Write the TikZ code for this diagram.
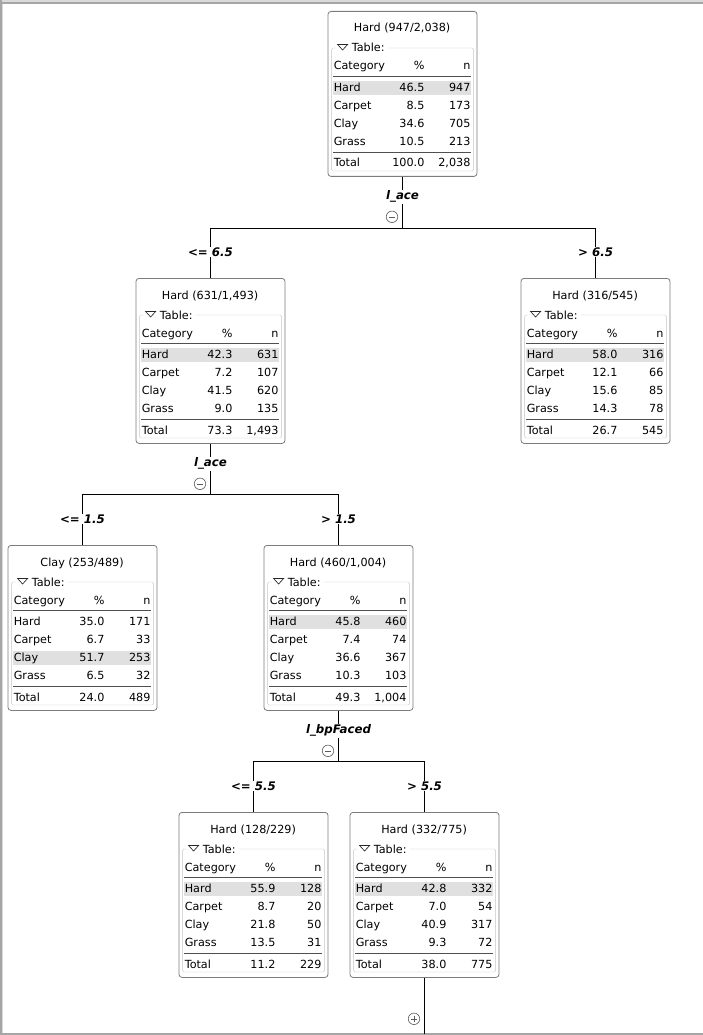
\documentclass[tikz,border=0pt]{standalone}
\usepackage{fontspec}
\setmainfont{DejaVu Sans}
\usetikzlibrary{calc}

\definecolor{boxgray}{HTML}{7C7C7C}
\definecolor{framegray}{HTML}{C6C6C6}
\definecolor{hilitegray}{HTML}{E0E0E0}
\definecolor{rulegray}{HTML}{505050}
\definecolor{icongray}{HTML}{5A5A5A}

\tikzset{
	treebox/.style={draw=boxgray,line width=0.8pt,rounded corners=3pt,fill=white,
		minimum width=149pt,minimum height=165pt,inner sep=0pt},
	celltext/.style={inner sep=0pt,font=\fontsize{11.2}{13}\selectfont},
	splitlabel/.style={inner sep=1pt,fill=white,font=\fontsize{11.8}{14}\selectfont\bfseries\itshape},
	togglecirc/.style={draw=icongray,line width=0.6pt,circle,minimum size=11.5pt,inner sep=0pt},
	link/.style={black,line width=0.8pt},
}

% #1 name, #2 x, #3 top, #4 title, #5 shaded row, #6 rows, #7 total %, #8 total n
\newcommand{\catnode}[8]{%
	\node[treebox,anchor=north] (#1) at (#2,#3) {};
	\begin{scope}[shift={(#1.north west)}]
		\fill[hilitegray] (5.5,{76.3+18.1*(#5-1)-6.5}) rectangle (143.5,{76.3+18.1*(#5-1)+7.5});
		\node[celltext,anchor=base] (#1-title) at (74.5,21) {#4};
		\draw[framegray,rounded corners=1.5pt] (8,37) -- (4,37) -- (4,160) -- (146,160) -- (146,37) -- (60,37);
		\draw[black!85,line width=0.65pt] (10,33.5) -- (20,33.5) -- (15,39) -- cycle;
		\node[celltext,anchor=base west] (#1-grp) at (24,41) {Table:};
		\node[celltext,anchor=base west] (#1-hc) at (6,59) {Category};
		\node[celltext,anchor=base east] (#1-hp) at (97,59) {\%};
		\node[celltext,anchor=base east] (#1-hn) at (143,59) {n};
		\draw[rulegray] (5.5,65) -- (143.5,65);
		\foreach \cat/\pct/\cnt [count=\k] in {#6} {
			\node[celltext,anchor=base west] (#1-c\k) at (6,{80.3+18.1*(\k-1)}) {\cat};
			\node[celltext,anchor=base east] (#1-p\k) at (97,{80.3+18.1*(\k-1)}) {\pct};
			\node[celltext,anchor=base east] (#1-n\k) at (143,{80.3+18.1*(\k-1)}) {\cnt};
		}
		\draw[rulegray] (5.5,141) -- (143.5,141);
		\node[celltext,anchor=base west] (#1-tc) at (6,156) {Total};
		\node[celltext,anchor=base east] (#1-tp) at (97,156) {#7};
		\node[celltext,anchor=base east] (#1-tn) at (143,156) {#8};
	\end{scope}}

\begin{document}
\begin{tikzpicture}[x=1pt,y=-1pt]
	\useasboundingbox (0,0) rectangle (703,1035);
	% window frame
	\fill[gray!30] (0,0) rectangle (703,2);
	\fill[gray!70] (0,2) rectangle (703,4);
	\fill[gray!70] (0,0) rectangle (2,1035);
	\fill[gray!30] (2,4) rectangle (3,1035);
	\fill[gray!70] (0,1033) rectangle (703,1035);

	% tree nodes
	\catnode{root}{402.5}{11}{Hard (947/2,038)}{1}{Hard/46.5/947,Carpet/8.5/173,Clay/34.6/705,Grass/10.5/213}{100.0}{2,038}
	\catnode{le65}{210.5}{278}{Hard (631/1,493)}{1}{Hard/42.3/631,Carpet/7.2/107,Clay/41.5/620,Grass/9.0/135}{73.3}{1,493}
	\catnode{gt65}{595.5}{278}{Hard (316/545)}{1}{Hard/58.0/316,Carpet/12.1/66,Clay/15.6/85,Grass/14.3/78}{26.7}{545}
	\catnode{le15}{82.5}{545}{Clay (253/489)}{3}{Hard/35.0/171,Carpet/6.7/33,Clay/51.7/253,Grass/6.5/32}{24.0}{489}
	\catnode{gt15}{338.5}{545}{Hard (460/1,004)}{1}{Hard/45.8/460,Carpet/7.4/74,Clay/36.6/367,Grass/10.3/103}{49.3}{1,004}
	\catnode{le55}{253.5}{812}{Hard (128/229)}{1}{Hard/55.9/128,Carpet/8.7/20,Clay/21.8/50,Grass/13.5/31}{11.2}{229}
	\catnode{gt55}{424.5}{812}{Hard (332/775)}{1}{Hard/42.8/332,Carpet/7.0/54,Clay/40.9/317,Grass/9.3/72}{38.0}{775}

	% splits
	\coordinate (j1) at ($(root.south)+(0,52)$);
	\coordinate (j2) at ($(le65.south)+(0,51)$);
	\coordinate (j3) at ($(gt15.south)+(0,51)$);
	\coordinate (tail) at ($(gt55.south)+(0,56)$);
	\draw[link] (root.south) -- (j1);
	\draw[link] (le65.north) |- (j1) -| (gt65.north);
	\draw[link] (le65.south) -- (j2);
	\draw[link] (le15.north) |- (j2) -| (gt15.north);
	\draw[link] (gt15.south) -- (j3);
	\draw[link] (le55.north) |- (j3) -| (gt55.north);
	\draw[link] (gt55.south) -- (tail);

	\node[splitlabel] (v1) at ($(root.south)+(0,20)$) {l\_ace};
	\node[splitlabel] (v2) at ($(le65.south)+(0,20)$) {l\_ace};
	\node[splitlabel] (v3) at ($(gt15.south)+(0,20)$) {l\_bpFaced};

	\node[splitlabel] (e1) at ($(le65.north)+(0,-26)$) {<= 6.5};
	\node[splitlabel] (e2) at ($(gt65.north)+(0,-26)$) {> 6.5};
	\node[splitlabel] (e3) at ($(le15.north)+(0,-26)$) {<= 1.5};
	\node[splitlabel] (e4) at ($(gt15.north)+(0,-26)$) {> 1.5};
	\node[splitlabel] (e5) at ($(le55.north)+(0,-26)$) {<= 5.5};
	\node[splitlabel] (e6) at ($(gt55.north)+(0,-26)$) {> 5.5};

	% collapse / expand buttons
	\node[togglecirc] (t1) at ($(root.south)+(-10.5,40)$) {};
	\node[togglecirc] (t2) at ($(le65.south)+(-10.5,40)$) {};
	\node[togglecirc] (t3) at ($(gt15.south)+(-10.5,40)$) {};
	\node[togglecirc] (t4) at ($(gt55.south)+(-10.5,41)$) {};
	\foreach \t in {t1,t2,t3,t4}
		\draw[icongray,line width=0.6pt] ($(\t.center)+(-3,0)$) -- ($(\t.center)+(3,0)$);
	\draw[icongray,line width=0.6pt] ($(t4.center)+(0,-3)$) -- ($(t4.center)+(0,3)$);
\end{tikzpicture}
\end{document}
